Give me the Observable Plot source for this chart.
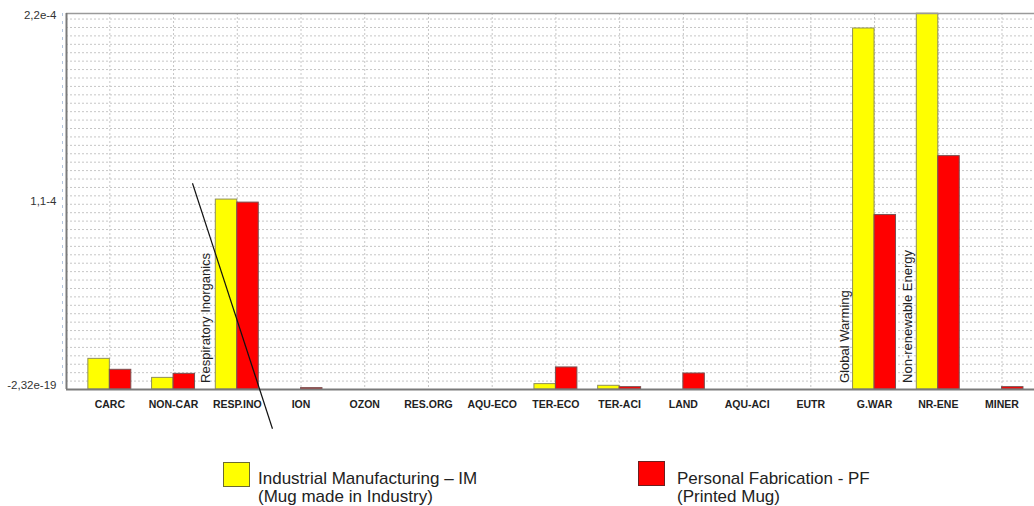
<!DOCTYPE html>
<html>
<head>
<meta charset="utf-8">
<script src="https://cdn.jsdelivr.net/npm/d3@7"></script>
<script src="https://cdn.jsdelivr.net/npm/@observablehq/plot@0.6"></script>
<style>
  html, body { margin: 0; padding: 0; background: #fff; }
  #wrap { width: 1034px; font-family: "Liberation Sans", Arial, sans-serif; }
  #legend { position: relative; width: 1034px; height: 56px; color: #222; }
  #legend .sw { position: absolute; width: 27px; height: 25px; box-sizing: border-box; border: 1px solid #6b6b40; }
  #legend .tx { position: absolute; font-size: 17px; line-height: 18px; white-space: nowrap; }
</style>
</head>
<body>
<div id="wrap">
  <div id="chart"></div>
  <div id="legend"></div>
</div>
<script>
// ---- data ----
const categories = ["CARC","NON-CAR","RESP.INO","ION","OZON","RES.ORG","AQU-ECO","TER-ECO","TER-ACI","LAND","AQU-ACI","EUTR","G.WAR","NR-ENE","MINER"];
const imValues = [1.82e-5, 6.9e-6, 1.128e-4, 0, 0, 0, 0, 3.2e-6, 2.2e-6, 0, 0, 0, 2.144e-4, 2.232e-4, 0];
const pfValues = [1.17e-5, 9.3e-6, 1.11e-4, 8e-7, 0, 0, 0, 1.31e-5, 1.4e-6, 9.5e-6, 0, 0, 1.036e-4, 1.386e-4, 1.4e-6];
const seriesNames = ["Industrial Manufacturing – IM", "Personal Fabrication - PF"];
const seriesSubtitles = ["(Mug made in Industry)", "(Printed Mug)"];
const seriesColors = ["#ffff00", "#ff0000"];
const yTickValues = [0, 1.1165e-4, 2.233e-4];
const yTickLabels = ["-2,32e-19", "1,1-4", "2,2e-4"];
const annotationLabels = ["Respiratory Inorganics", "Global Warming", "Non-renewable Energy"];
const annotationX = [1.506, 11.53, 12.52];
const annotationY = [3.9e-6, 3.9e-6, 3.9e-6];
const pointerLine = [{x1: 1.297, y1: 1.225e-4, x2: 2.552, y2: -2.33e-5}];

// ---- derived tables ----
const xDomain = [-0.68, 14.51];
const yMax = yTickValues[2];
const barHalf = 0.337;
const bars = [];
categories.forEach((c, i) => {
  bars.push({i, series: 0, value: imValues[i]});
  bars.push({i, series: 1, value: pfValues[i]});
});
const barsIM = bars.filter(d => d.series === 0 && d.value > 0);
const barsPF = bars.filter(d => d.series === 1 && d.value > 0);
const gridValues = d3.range(0, yMax, 5e-6);
const annotations = annotationLabels.map((t, k) => ({t, x: annotationX[k], y: annotationY[k]}));
const yLabelShift = [-4, 0, 2];

const font = '"Liberation Sans", Arial, sans-serif';

const plot = Plot.plot({
  width: 1034,
  height: 450,
  marginLeft: 66,
  marginRight: 0,
  marginTop: 13,
  marginBottom: 61,
  style: {fontFamily: font, background: "#fff", overflow: "visible"},
  x: {type: "linear", domain: xDomain, axis: null},
  y: {domain: [0, yMax], axis: null},
  marks: [
    Plot.ruleY(gridValues, {y: d => d, stroke: "#c6c6c6", strokeDasharray: "2,2", strokeWidth: 1}),
    Plot.ruleX(categories.map((c, i) => i), {x: d => d, stroke: "#c6c6c6", strokeDasharray: "2,2", strokeWidth: 1}),
    Plot.ruleX([xDomain[0]], {x: d => d, dx: -4, stroke: "#b3c5dd", strokeDasharray: "3,5", strokeWidth: 1}),
    Plot.rectY(barsIM, {x1: d => d.i - barHalf, x2: d => d.i, y: "value", fill: seriesColors[0], stroke: "#8f8f5a", strokeWidth: 1}),
    Plot.rectY(barsPF, {x1: d => d.i, x2: d => d.i + barHalf, y: "value", fill: seriesColors[1], stroke: "#7a5050", strokeWidth: 1}),
    Plot.ruleY([yMax], {y: d => d, stroke: "#9a9a9a", strokeWidth: 1.5}),
    Plot.ruleY([0], {y: d => d, stroke: "#7a7a7a", strokeWidth: 2}),
    Plot.ruleX([xDomain[0]], {x: d => d, stroke: "#7a7a7a", strokeWidth: 2}),
    Plot.text(categories, {x: (d, i) => i, y: 0, text: d => d, dy: 15, fontSize: 10.5, fontWeight: "bold", fill: "#222"}),
    ...yTickValues.map((v, k) => Plot.text([v], {x: xDomain[0], y: d => d, text: () => yTickLabels[k], textAnchor: "end", dx: -10, dy: yLabelShift[k], fontSize: 11.5, fill: "#333"})),
    Plot.text(annotations, {x: "x", y: "y", text: "t", rotate: -90, textAnchor: "start", fontSize: 13, fill: "#222"}),
    Plot.link(pointerLine, {x1: "x1", y1: "y1", x2: "x2", y2: "y2", stroke: "#111", strokeWidth: 1.2})
  ]
});
document.getElementById("chart").appendChild(plot);

// ---- legend ----
const legend = document.getElementById("legend");
const swLeft = [223, 638], swTop = [12, 11], txLeft = [258, 677];
const swBorder = ["#6b6b30", "#6b2020"];
seriesNames.forEach((name, k) => {
  const sw = document.createElement("div");
  sw.className = "sw";
  sw.style.left = swLeft[k] + "px";
  sw.style.top = swTop[k] + "px";
  sw.style.background = seriesColors[k];
  sw.style.borderColor = swBorder[k];
  legend.appendChild(sw);
  const tx = document.createElement("div");
  tx.className = "tx";
  tx.style.left = txLeft[k] + "px";
  tx.style.top = "20px";
  tx.innerHTML = name + "<br>" + seriesSubtitles[k];
  legend.appendChild(tx);
});
</script>
</body>
</html>
